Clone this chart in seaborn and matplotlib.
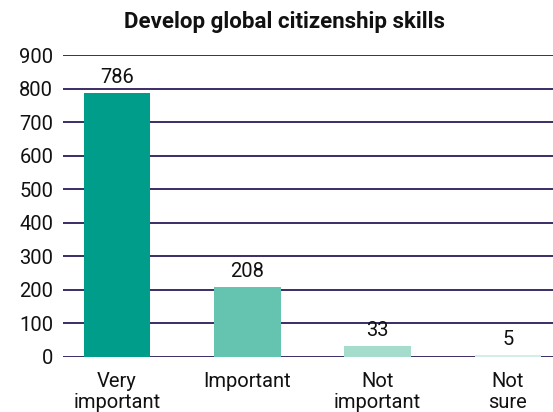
import matplotlib
matplotlib.use("Agg")
import matplotlib.pyplot as plt
import seaborn as sns
import pandas as pd

categories = ["Very\nimportant", "Important", "Not\nimportant", "Not\nsure"]
values = [786, 208, 33, 5]
colors = ["#009E8A", "#64C4B0", "#A6DCCB", "#D3EEE6"]
title = "Develop global citizenship skills"

sns.set_theme(style="white")
plt.rcParams['font.family'] = ['Roboto', 'DejaVu Sans']

df = pd.DataFrame({"cat": categories, "val": values})
fig = plt.figure(figsize=(5.53, 4.12), dpi=100)
ax = fig.add_axes([0.114, 0.1335, 0.886, 0.733])
sns.barplot(data=df, x="cat", y="val", hue="cat", palette=colors, width=0.51,
            legend=False, ax=ax, saturation=1, linewidth=0)
for p in ax.patches:
    p.set_zorder(3)
ax.set_ylim(0, 900)
ax.set_xlim(-0.414, 3.346)
ax.set_yticks(range(0, 901, 100))
ax.yaxis.grid(True, color="#2B1D5C", linewidth=1.3, zorder=0)
ax.set_axisbelow(True)
for s in ax.spines.values():
    s.set_visible(False)
ax.tick_params(axis="both", length=0, labelsize=14.5, colors="#111111")
ax.tick_params(axis="y", pad=7)
ax.tick_params(axis="x", pad=11)
for lbl in ax.get_xticklabels():
    lbl.set_linespacing(1.1)
ax.set_xlabel("")
ax.set_ylabel("")
for i, v in enumerate(values):
    ax.text(i, v + 18, str(v), ha="center", va="bottom", fontsize=14.5, color="#111111", zorder=4)
fig.text(0.515, 0.947, title, ha="center", va="center", fontsize=16, fontweight="bold", color="#111111")
fig.savefig("out.png", dpi=100)
